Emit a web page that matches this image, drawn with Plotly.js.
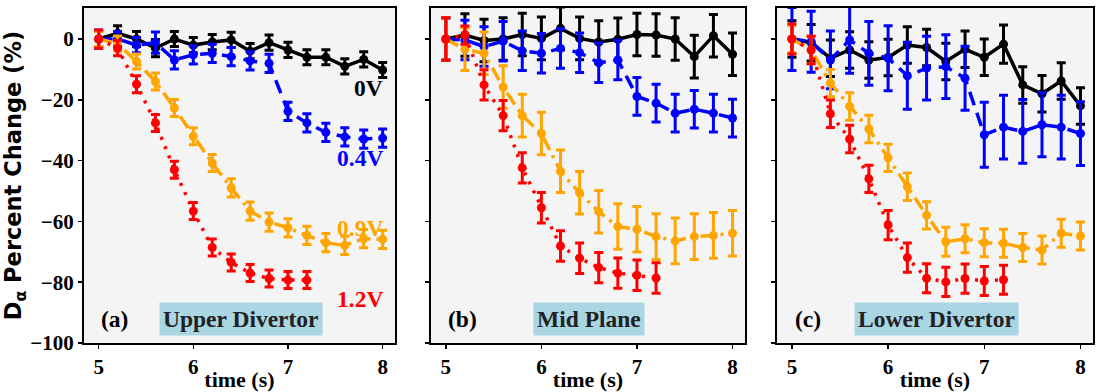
<!DOCTYPE html>
<html>
<head>
<meta charset="utf-8">
<script src="https://cdn.plot.ly/plotly-3.0.1.min.js"></script>
<style>html,body{margin:0;padding:0;background:#fff;}#chart{width:1102px;height:392px;}</style>
</head>
<body>
<div id="chart"></div>
<script>
// ---- data ----
const time = [5.0,5.2,5.4,5.6,5.8,6.0,6.2,6.4,6.6,6.8,7.0,7.2,7.4,7.6,7.8,8.0];
const timeRed = [5.0,5.2,5.4,5.6,5.8,6.0,6.2,6.4,6.6,6.8,7.0,7.2];
const seriesNames = ['0V','0.4V','0.9V','1.2V'];
const panelLabels = ['(a)','(b)','(c)'];
const regionNames = ['Upper Divertor','Mid Plane','Lower Divertor'];
const yTicks = [0,-20,-40,-60,-80,-100];
const xTicks = [5,6,7,8];

// Panel (a) Upper Divertor
const upper0V   = [0,1.9,0,-3,0,-2,-1,-0.3,-4,-1.2,-3.6,-6,-6,-9,-6.7,-10.2];
const upper0VErr= [2.5,2.5,2.5,2.8,2.5,2.5,2.5,2.5,2.5,2.5,2.5,2.5,2.5,2.5,2.5,2.5];
const upper04V   = [0,0,-2,-1.2,-6.9,-5.2,-4.7,-5.8,-7.2,-8,-23.8,-27.6,-30.7,-32.2,-32.9,-32.6];
const upper04VErr= [3,2.5,2.5,3.5,3,3,3,3,3,3,3,3,3,3,3,3];
const upper09V   = [0,-1.5,-7.4,-14,-22.7,-32,-40.8,-49,-56.6,-60.2,-62.1,-64.6,-67,-67.9,-65.7,-65.9];
const upper09VErr= [2.5,2.5,2.5,2.8,2.8,2.8,2.8,3,3,3,3,3,3,3,3,3];
const upper12V   = [0,-3,-14.9,-27.6,-43,-56.6,-68.6,-73.5,-77,-78.8,-79.3,-79.3];
const upper12VErr= [3,2.5,2.8,2.8,2.8,2.8,2.8,2.8,2.8,2.8,2.8,2.8];

// Panel (b) Mid Plane
const mid0V   = [0,1.3,-0.5,0,1.5,0.2,3.5,0.2,-1,-0.1,1.5,1.3,0,-5.8,1.1,-5];
const mid0VErr= [7,7,7,7,7,7,7,7,7,7,7,7,7,7,7,7];
const mid04V   = [0,-0.3,-2.5,-0.7,-3.9,-4.7,-3.1,-4.5,-7.8,-6.9,-18.9,-21.1,-24.4,-23.1,-24.4,-26];
const mid04VErr= [7,6.5,6.5,6.5,6.5,6.5,6.5,6.5,6.5,6.5,6.2,6.2,6.2,6.2,6.2,6.2];
const mid09V   = [0,-3.4,-4.7,-15.8,-25.2,-31.1,-43.5,-50.6,-56.8,-61.7,-62.6,-65,-66.4,-65,-64.6,-63.9];
const mid09VErr= [7,7,7,7,7,7,7,7,7,7.5,7.5,7.5,7.5,7.5,7.5,7.5];
const mid12V   = [0,1.3,-15.1,-25.2,-42.4,-55.5,-68.1,-72.1,-75.2,-77,-77.7,-78.6];
const mid12VErr= [7,3,5,5,5,5,5,5,5,5,5,5];

// Panel (c) Lower Divertor
const lower0V   = [0,-1.2,-6.3,-3.6,-6.9,-6.1,-2,-2.8,-7.4,-3.4,-6,-1.7,-15.1,-18,-13.8,-22];
const lower0VErr= [6,6,6,6,6,6,6,6,6,6,6,6.3,6,6,6,6];
const lower04V   = [0,-0.9,-6.9,-0.3,-4.7,-6.3,-12.1,-9.6,-9.1,-12.9,-31.5,-29,-30.4,-28.2,-29,-31.1];
const lower04VErr= [10.4,10,9.5,11,10.5,10.7,11,10.5,10.5,10.5,10.7,10.5,10.5,10.5,10.5,10.5];
const lower09V   = [0,-3.6,-14.5,-22.2,-29.6,-39.1,-48.6,-58,-66.7,-65.7,-67,-67.2,-68.6,-69.4,-63.9,-64.8];
const lower09VErr= [4.5,4.5,4.5,4.5,4.5,4.5,4.5,4.5,4.8,4.6,4.6,4.6,4.6,4.6,4.6,4.6];
const lower12V   = [0,-3.6,-24.6,-32.9,-46,-61.2,-71.9,-78.7,-79.9,-78.8,-79.6,-79.2];
const lower12VErr= [4.9,4.5,4.5,4.5,4.5,4.8,4.8,4.8,4.8,4.8,4.8,4.8];

// ---- styles ----
const colors = ['#000000','#0000ff','#ffa500','#ff0000'];
const dashes = ['solid','14px,8px','14px,6px,3px,6px','3px,7px'];
const serif = 'Liberation Serif, Times New Roman, serif';

const panels = [
  [[upper0V,upper0VErr],[upper04V,upper04VErr],[upper09V,upper09VErr],[upper12V,upper12VErr]],
  [[mid0V,mid0VErr],[mid04V,mid04VErr],[mid09V,mid09VErr],[mid12V,mid12VErr]],
  [[lower0V,lower0VErr],[lower04V,lower04VErr],[lower09V,lower09VErr],[lower12V,lower12VErr]]
];

const traces = [];
panels.forEach((p, pi) => {
  const ax = pi === 0 ? '' : String(pi + 1);
  p.forEach((s, si) => {
    const xs = si === 3 ? timeRed : time;
    traces.push({
      type: 'scatter', mode: 'lines+markers',
      x: xs, y: s[0], name: seriesNames[si],
      xaxis: 'x' + ax, yaxis: 'y' + ax,
      line: {color: colors[si], width: 3.5, dash: dashes[si]},
      marker: {color: colors[si], size: 9},
      error_y: {type: 'data', array: s[1], visible: true, color: colors[si], thickness: 3, width: 4.5},
      showlegend: false
    });
  });
});

const domainsX = [[0.0762,0.3584],[0.3911,0.6760],[0.7051,0.9918]];
const layout = {
  width: 1102, height: 392,
  margin: {l: 0, r: 0, t: 0, b: 0},
  paper_bgcolor: '#ffffff',
  plot_bgcolor: '#f4f4f4',
  showlegend: false,
  annotations: []
};
for (let i = 0; i < 3; i++) {
  const ax = i === 0 ? '' : String(i + 1);
  layout['xaxis' + ax] = {
    domain: domainsX[i], anchor: 'y' + ax, range: [4.845, 8.13],
    tickvals: xTicks, ticks: 'outside', ticklen: 4, tickwidth: 1.5, tickcolor: '#000',
    showline: true, mirror: true, linecolor: '#000', linewidth: 2, showgrid: false, zeroline: false,
    tickfont: {family: serif, size: 21, color: '#000', weight: 'bold'},
    title: {text: 'time (s)', font: {family: serif, size: 22, color: '#000', weight: 'bold'}, standoff: 0}
  };
  const yax = {
    domain: [0.125, 0.9796], anchor: 'x' + ax, range: [-100, 10.2],
    tickvals: yTicks, ticktext: yTicks.map(v => v < 0 ? '\u2212' + Math.abs(v) : String(v)),
    ticks: 'outside', ticklen: 4, tickwidth: 1.5, tickcolor: '#000',
    showticklabels: i === 0,
    showline: true, mirror: true, linecolor: '#000', linewidth: 2, showgrid: false, zeroline: false,
    tickfont: {family: serif, size: 21, color: '#000', weight: 'bold'}
  };
  if (i === 0) {
    yax.title = {text: 'D<sub>α</sub> Percent Change (%)', font: {family: 'DejaVu Sans', size: 22.5, color: '#000', weight: 'bold'}, standoff: 2};
  }
  layout['yaxis' + ax] = yax;
  layout.annotations.push({
    xref: 'x' + ax, yref: 'y' + ax, x: 5.17, y: -92, text: panelLabels[i], showarrow: false,
    font: {family: serif, size: 23.5, color: '#000', weight: 'bold'}
  });
  layout.annotations.push({
    xref: 'x' + ax, yref: 'y' + ax, x: 6.5, y: -92, text: regionNames[i], showarrow: false,
    font: {family: serif, size: 23.5, color: '#222222', weight: 'bold'},
    bgcolor: '#aad6e4', borderpad: 3
  });
}
// series labels on panel (a)
const labelY = [-16, -39, -62.3, -85.6];
seriesNames.forEach((n, si) => {
  layout.annotations.push({
    xref: 'x', yref: 'y', x: 8.03, y: labelY[si], xanchor: 'right', text: n, showarrow: false,
    font: {family: serif, size: 23.5, color: colors[si], weight: 'bold'}
  });
});

Plotly.newPlot('chart', traces, layout, {staticPlot: true});
</script>
</body>
</html>
